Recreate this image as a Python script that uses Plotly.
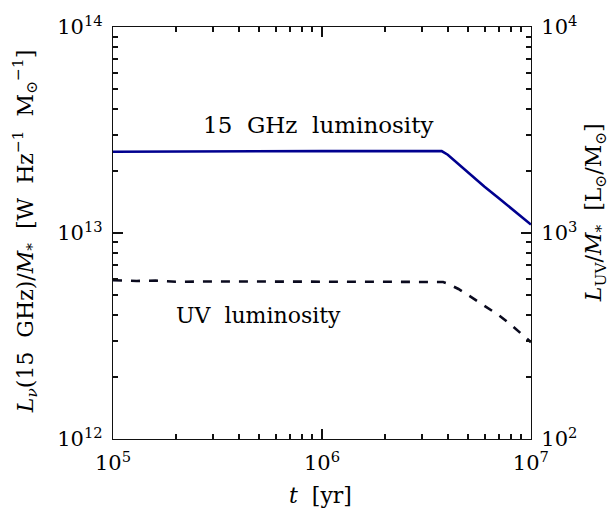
import plotly.graph_objects as go

# time [yr]
t_yr = [1e5, 2e5, 3e5, 5e5, 7e5, 1e6, 1.5e6, 2e6, 3e6, 3.74e6, 4e6, 4.5e6, 5e6, 6e6, 7e6, 8e6, 9e6, 1e7]
# 15 GHz luminosity per stellar mass [W Hz^-1 Msun^-1]
L15 = [2.48e13, 2.49e13, 2.5e13, 2.5e13, 2.5e13, 2.5e13, 2.5e13, 2.5e13, 2.5e13, 2.5e13,
       2.40e13, 2.16e13, 1.96e13, 1.68e13, 1.48e13, 1.32e13, 1.20e13, 1.10e13]
# UV luminosity per stellar mass [Lsun/Msun]
t_uv = [1e5, 1.3e5, 1.6e5, 2e5, 3e5, 5e5, 7e5, 1e6, 1.5e6, 2e6, 3e6, 3.8e6, 4e6, 4.5e6, 5e6, 6e6, 7e6, 8e6, 9e6, 1e7]
LUV = [590, 585, 588, 580, 582, 580, 580, 580, 580, 580, 580, 578, 568, 535, 500, 445, 400, 360, 325, 295]

xmaj = [1e5, 1e6, 1e7]
xmaj_text = ["10<sup>5</sup>", "10<sup>6</sup>", "10<sup>7</sup>"]
ymaj = [1e12, 1e13, 1e14]
ymaj_text = ["10<sup>12</sup>", "10<sup>13</sup>", "10<sup>14</sup>"]
y2maj = [1e2, 1e3, 1e4]
y2maj_text = ["10<sup>2</sup>", "10<sup>3</sup>", "10<sup>4</sup>"]


def minors(lo, hi):
    out = []
    d = lo
    while d < hi * 0.999:
        out += [k * d for k in range(2, 10)]
        d *= 10
    return out


FONT = "DejaVu Serif"
INK = "#111"
NB = "\u00a0"
fig = go.Figure()
fig.add_trace(go.Scatter(x=t_yr, y=L15, mode="lines", line=dict(color="#00008f", width=2.6),
                         xaxis="x", yaxis="y", hoverinfo="skip"))
fig.add_trace(go.Scatter(x=t_uv, y=LUV, mode="lines", line=dict(color="#0a0a1e", width=2.6, dash="dash"),
                         xaxis="x", yaxis="y2", hoverinfo="skip"))
# invisible anchors for the minor-tick overlay axes
fig.add_trace(go.Scatter(x=[1e6], y=[1e13], mode="markers", marker=dict(opacity=0),
                         xaxis="x2", yaxis="y3", hoverinfo="skip"))
fig.add_trace(go.Scatter(x=[1e6], y=[1e3], mode="markers", marker=dict(opacity=0),
                         xaxis="x2", yaxis="y4", hoverinfo="skip"))

tickfont = dict(family=FONT, size=21, color="black")
base = dict(showgrid=False, zeroline=False, tickcolor=INK, tickwidth=1.5, ticks="inside",
            ticklabeloverflow="allow")
XR = [5, 7.0004]
YR = [12, 14.0004]
Y2R = [2, 4.0004]

fig.update_layout(
    width=614, height=519,
    margin=dict(l=113, r=83, t=12, b=80),
    paper_bgcolor="white", plot_bgcolor="white",
    showlegend=False,
    xaxis=dict(type="log", range=XR, tickmode="array", tickvals=xmaj, ticktext=xmaj_text,
               showline=True, linecolor=INK, linewidth=1.3, mirror="ticks", ticklen=10,
               tickfont=tickfont, ticklabelstandoff=5, anchor="y", **base),
    xaxis2=dict(type="log", range=XR, overlaying="x", anchor="y", tickmode="array",
                tickvals=minors(1e5, 1e7), showticklabels=False, showline=False,
                mirror="ticks", ticklen=5, **base),
    yaxis=dict(type="log", range=YR, tickmode="array", tickvals=ymaj, ticktext=ymaj_text,
               showline=True, linecolor=INK, linewidth=1.3, ticklen=10, side="left",
               tickfont=tickfont, ticklabelstandoff=5, anchor="x", **base),
    yaxis3=dict(type="log", range=YR, overlaying="y", side="left", anchor="x", tickmode="array",
                tickvals=minors(1e12, 1e14), showticklabels=False, showline=False,
                ticklen=5, **base),
    yaxis2=dict(type="log", range=Y2R, overlaying="y", side="right", anchor="x", tickmode="array",
                tickvals=y2maj, ticktext=y2maj_text,
                showline=True, linecolor=INK, linewidth=1.3, ticklen=10,
                tickfont=tickfont, ticklabelstandoff=5, **base),
    yaxis4=dict(type="log", range=Y2R, overlaying="y", side="right", anchor="x", tickmode="array",
                tickvals=minors(1e2, 1e4), showticklabels=False, showline=False,
                ticklen=5, **base),
)

title_font = dict(family=FONT, size=22, color="black")
fig.add_annotation(text=f"15{NB} GHz{NB} luminosity", xref="paper", yref="paper", x=0.491, y=0.763,
                   xanchor="center", yanchor="middle", showarrow=False,
                   font=dict(family=FONT, size=23, color="black"))
fig.add_annotation(text=f"UV{NB} luminosity", xref="paper", yref="paper", x=0.347, y=0.30,
                   xanchor="center", yanchor="middle", showarrow=False,
                   font=dict(family=FONT, size=22, color="black"))
fig.add_annotation(text=f"<i>t</i>{NB} [yr]", xref="paper", yref="paper", x=0.496, y=-0.138,
                   xanchor="center", yanchor="middle", showarrow=False, font=title_font)
fig.add_annotation(text=f"<i>L<sub>ν</sub></i>(15{NB} GHz)/<i>M</i><sub>*</sub>{NB} [W{NB} Hz<sup>−1</sup>{NB} M<sub>⊙</sub><sup>−1</sup>]",
                   xref="paper", yref="paper", x=-0.21, y=0.505, xanchor="center", yanchor="middle",
                   textangle=-90, showarrow=False, font=title_font)
fig.add_annotation(text=f"<i>L</i><sub>UV</sub>/<i>M</i><sub>*</sub>{NB} [L<sub>⊙</sub>/M<sub>⊙</sub>]",
                   xref="paper", yref="paper", x=1.155, y=0.55, xanchor="center", yanchor="middle",
                   textangle=-90, showarrow=False, font=title_font)

fig.write_html("out.html", config={"displayModeBar": False},
               post_script="document.body.style.margin='0px';")
